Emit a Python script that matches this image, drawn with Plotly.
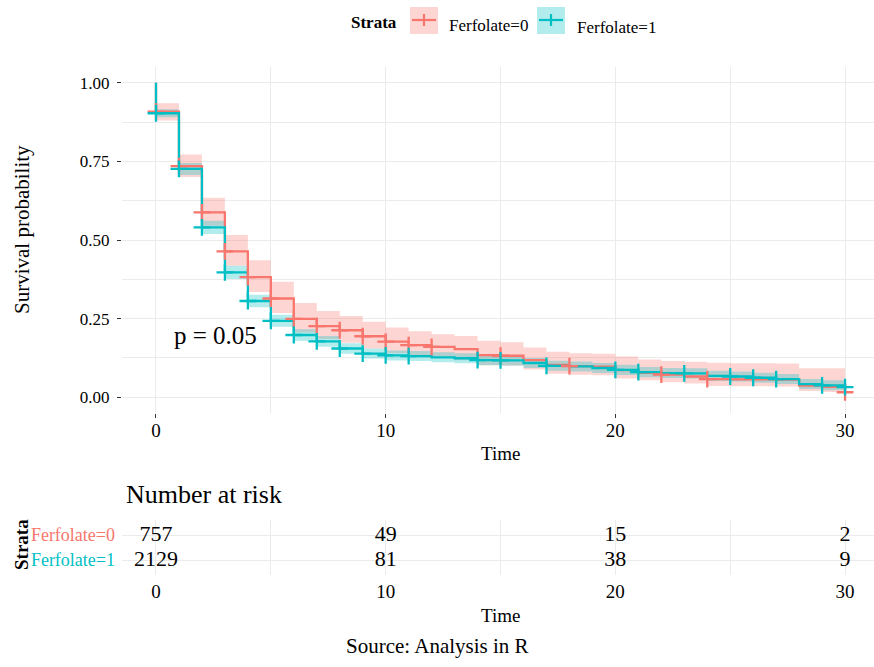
import plotly.graph_objects as go

# ---------------- data ----------------
times = list(range(31))

surv0 = [0.908, 0.735, 0.588, 0.464, 0.382, 0.314, 0.249, 0.226, 0.213, 0.194,
         0.177, 0.166, 0.160, 0.153, 0.134, 0.132, 0.118, 0.103, 0.099, 0.097,
         0.086, 0.078, 0.072, 0.066, 0.058, 0.057, 0.057, 0.056, 0.037, 0.033, 0.016]
upper0 = [0.935, 0.772, 0.634, 0.516, 0.436, 0.367, 0.300, 0.274, 0.258, 0.240,
          0.222, 0.210, 0.200, 0.195, 0.180, 0.175, 0.158, 0.145, 0.140, 0.138,
          0.130, 0.120, 0.115, 0.113, 0.110, 0.108, 0.108, 0.107, 0.092, 0.092, 0.092]
lower0 = [0.880, 0.700, 0.545, 0.418, 0.335, 0.268, 0.206, 0.185, 0.173, 0.155,
          0.140, 0.130, 0.125, 0.118, 0.102, 0.100, 0.088, 0.075, 0.072, 0.070,
          0.060, 0.054, 0.048, 0.044, 0.036, 0.035, 0.035, 0.034, 0.020, 0.017, 0.005]

surv1 = [0.903, 0.726, 0.540, 0.397, 0.306, 0.243, 0.198, 0.178, 0.155, 0.139,
         0.133, 0.131, 0.127, 0.124, 0.118, 0.117, 0.109, 0.100, 0.098, 0.093,
         0.087, 0.080, 0.077, 0.076, 0.068, 0.066, 0.062, 0.058, 0.042, 0.038, 0.032]
upper1 = [0.916, 0.745, 0.561, 0.418, 0.326, 0.262, 0.216, 0.195, 0.172, 0.155,
          0.149, 0.147, 0.143, 0.140, 0.134, 0.133, 0.125, 0.116, 0.114, 0.109,
          0.103, 0.096, 0.093, 0.092, 0.084, 0.082, 0.078, 0.074, 0.058, 0.054, 0.048]
lower1 = [0.890, 0.707, 0.519, 0.376, 0.286, 0.224, 0.180, 0.161, 0.138, 0.123,
          0.117, 0.115, 0.111, 0.108, 0.102, 0.101, 0.093, 0.084, 0.082, 0.077,
          0.071, 0.064, 0.061, 0.060, 0.052, 0.050, 0.046, 0.042, 0.026, 0.022, 0.016]

censor0 = [0, 1, 2, 3, 4, 5, 6, 7, 8, 9, 10, 11, 12, 15, 18, 22, 24, 30]
censor1 = [0, 1, 2, 3, 4, 5, 6, 7, 8, 9, 10, 11, 14, 15, 17, 20, 21, 23, 25, 26, 27, 29, 30]

strata = ["Ferfolate=0", "Ferfolate=1"]
risk_times = [0, 10, 20, 30]
risk0 = [757, 49, 15, 2]
risk1 = [2129, 81, 38, 9]

x_ticks = [0, 10, 20, 30]
y_ticks = [0, 0.25, 0.5, 0.75, 1.0]
y_ticktext = ["0.00", "0.25", "0.50", "0.75", "1.00"]
p_text = "p = 0.05"

# ---------------- styling ----------------
W, H = 874, 667
def px(x): return x / W
def py(y): return 1 - y / H

FONT = "Liberation Serif"
RED, TEAL = "#F8766D", "#00BFC4"
RED_FILL, TEAL_FILL = "rgba(248,118,109,0.30)", "rgba(0,191,196,0.30)"
GRID = "#EBEBEB"

fig = go.Figure()

# confidence bands
for up, lo, fill in [(upper0, lower0, RED_FILL), (upper1, lower1, TEAL_FILL)]:
    fig.add_trace(go.Scatter(x=times, y=up, mode="lines", line=dict(width=0, shape="hv"),
                             showlegend=False, hoverinfo="skip"))
    fig.add_trace(go.Scatter(x=times, y=lo, mode="lines", line=dict(width=0, shape="hv"),
                             fill="tonexty", fillcolor=fill, showlegend=False, hoverinfo="skip"))

# survival step curves
for s, col, name in [(surv0, RED, strata[0]), (surv1, TEAL, strata[1])]:
    fig.add_trace(go.Scatter(x=[0] + times, y=[1.0] + s, mode="lines",
                             line=dict(color=col, width=2.3, shape="hv"),
                             name=name, showlegend=False))

# censor marks
for cens, s, col in [(censor0, surv0, RED), (censor1, surv1, TEAL)]:
    fig.add_trace(go.Scatter(x=cens, y=[s[t] for t in cens], mode="markers",
                             marker=dict(symbol="cross-thin", size=12,
                                         line=dict(color=col, width=2.3)),
                             showlegend=False, hoverinfo="skip"))

# risk table numbers
for vals, yv in [(risk0, 2), (risk1, 1)]:
    fig.add_trace(go.Scatter(x=risk_times, y=[yv] * len(risk_times), mode="text",
                             text=[str(v) for v in vals],
                             textfont=dict(family=FONT, size=22, color="black"),
                             xaxis="x2", yaxis="y2", showlegend=False, hoverinfo="skip"))

xrange = [-1.48, 31.26]
common_x = dict(range=xrange, domain=[px(122), 1.0], tickvals=x_ticks,
                showgrid=True, gridcolor=GRID, gridwidth=1.1, zeroline=False, showline=False,
                minor=dict(tickvals=[5, 15, 25], showgrid=True, gridcolor=GRID, gridwidth=0.7),
                tickfont=dict(family=FONT, size=19, color="black"))

fig.update_layout(
    width=W, height=H, autosize=False,
    margin=dict(l=0, r=0, t=0, b=0),
    paper_bgcolor="white", plot_bgcolor="white",
    showlegend=False,
    xaxis=dict(**common_x, anchor="y", ticks="outside", ticklen=4, tickcolor="#333333",
               tickwidth=1, ticklabelstandoff=-4),
    yaxis=dict(range=[-0.05, 1.05], domain=[py(413), py(67)], anchor="x",
               tickvals=y_ticks, ticktext=y_ticktext,
               showgrid=True, gridcolor=GRID, gridwidth=1.1, zeroline=False, showline=False,
               minor=dict(tickvals=[0.125, 0.375, 0.625, 0.875], showgrid=True,
                          gridcolor=GRID, gridwidth=0.7),
               ticks="outside", ticklen=4, tickcolor="#333333", tickwidth=1,
               ticklabelstandoff=4,
               tickfont=dict(family=FONT, size=17, color="black")),
    xaxis2=dict(**common_x, anchor="y2", ticks="", ticklabelstandoff=3),
    yaxis2=dict(range=[0.4, 2.6], domain=[py(575), py(520)], anchor="x2",
                tickvals=[2, 1],
                ticktext=[f'<span style="color:{RED}">{strata[0]}</span>',
                          f'<span style="color:{TEAL}">{strata[1]}</span>'],
                showgrid=True, gridcolor=GRID, gridwidth=1.1, zeroline=False, showline=False,
                ticks="", ticklabelstandoff=6, tickfont=dict(family=FONT, size=18)),
)

# p-value
ann = [dict(x=0.7, y=0.197, xref="x", yref="y", text=p_text, showarrow=False,
            xanchor="left", yanchor="middle", font=dict(family=FONT, size=25, color="black"))]

# titles / labels
def label(x, y, text, size, anchor="center", angle=0, bold=False, color="black"):
    t = f"<b>{text}</b>" if bold else text
    return dict(x=px(x), y=py(y), xref="paper", yref="paper", text=t, showarrow=False,
                xanchor=anchor, yanchor="middle", textangle=angle,
                font=dict(family=FONT, size=size, color=color))

ann += [
    label(22, 230, "Survival probability", 21, angle=-90),
    label(500, 453, "Time", 19),
    label(124, 494, "Number at risk", 26, anchor="left"),
    label(21, 545, "Strata", 19, angle=-90, bold=True),
    label(500, 615, "Time", 19),
    label(437, 646, "Source: Analysis in R", 21),
    label(374, 23, "Strata", 17, bold=True),
    label(447, 25, strata[0], 17, anchor="left"),
    label(575, 27, strata[1], 17, anchor="left"),
]

# legend keys
shapes = []
for x0, x1, col, fill in [(410, 438, RED, RED_FILL), (537, 565, TEAL, TEAL_FILL)]:
    cx = (x0 + x1) / 2
    shapes.append(dict(type="rect", xref="paper", yref="paper", x0=px(x0), x1=px(x1),
                       y0=py(34), y1=py(7), fillcolor=fill, line=dict(width=0), layer="below"))
    shapes.append(dict(type="line", xref="paper", yref="paper", x0=px(x0 + 2), x1=px(x1 - 2),
                       y0=py(20), y1=py(20), line=dict(color=col, width=2.2)))
    shapes.append(dict(type="line", xref="paper", yref="paper", x0=px(cx), x1=px(cx),
                       y0=py(14), y1=py(26), line=dict(color=col, width=2.2)))

fig.update_layout(annotations=ann, shapes=shapes)
fig.write_html("out.html")
